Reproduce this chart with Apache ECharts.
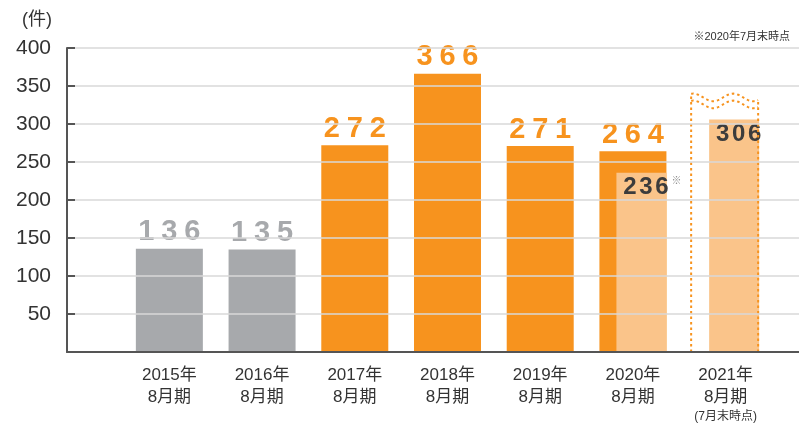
<!DOCTYPE html>
<html><head><meta charset="utf-8">
<script src="https://cdn.jsdelivr.net/npm/echarts@6/dist/echarts.min.js"></script>
<style>html,body{margin:0;padding:0;background:#fff}#c{width:799px;height:427px}</style>
</head><body><div id="c"></div>
<script>
const years = ['2015年','2016年','2017年','2018年','2019年','2020年','2021年'];
const periodLabel = '8月期';
const partialLabel = '(7月末時点)';
const counts = [136, 135, 272, 366, 271, 264, null];
const barKinds = ['gray','gray','orange','orange','orange','orange','none'];
const partialCounts = [null, null, null, null, null, 236, 306];
const partialMarks = ['', '', '', '', '', '※', ''];
const frameIndex = 6;
const frameTop = 340;
const yMin = 0, yMax = 400, yStep = 50;
const unitLabel = '(件)';
const noteLabel = '※2020年7月末時点';

const ORANGE = '#f7931e', LIGHT = '#fac48a', GRAY = '#a7a9ac', DARK = '#3c3c3c';
const FONT = "'Liberation Sans','Noto Sans CJK JP',sans-serif";

function spaced(v, key) { return String(v).split('').map(d => '{' + key + '|' + d + '}').join(''); }

const mainData = counts.map((v, i) => v == null ? '-' : {
  value: v,
  itemStyle: { color: barKinds[i] === 'gray' ? GRAY : ORANGE },
  label: { formatter: () => spaced(v, barKinds[i] === 'gray' ? 'g' : 'o') }
});
const partialData = partialCounts.map((v, i) => v == null ? null : [i, v, i]).filter(Boolean);

const chart = echarts.init(document.getElementById('c'));
chart.setOption({
  animation: false,
  textStyle: { fontFamily: FONT },
  title: [
    { text: unitLabel, left: 17, top: 6, textStyle: { fontSize: 18, fontWeight: 'normal', color: '#333', fontFamily: FONT } },
    { text: noteLabel, right: 4, top: 26, textStyle: { fontSize: 11, fontWeight: 'normal', color: '#333', fontFamily: FONT } }
  ],
  grid: [
    { left: 67, right: 0, top: 48, bottom: 75 },
    { left: 123, right: 27, top: 48, bottom: 75 }
  ],
  xAxis: [
    { gridIndex: 0, type: 'category', data: [''], z: 10,
      axisLine: { show: true, lineStyle: { color: '#555', width: 2 } },
      axisTick: { show: false }, axisLabel: { show: false } },
    { gridIndex: 1, type: 'category',
      data: years.map((y, i) => y + '\n' + periodLabel + (i === frameIndex ? '\n{s|' + partialLabel + '}' : '')),
      axisLine: { show: false }, axisTick: { show: false },
      axisLabel: { interval: 0, margin: 12, fontSize: 17, lineHeight: 22, color: '#333', fontFamily: FONT,
        rich: { s: { fontSize: 12, lineHeight: 18, color: '#333', fontFamily: FONT } } } }
  ],
  yAxis: [
    { gridIndex: 0, type: 'value', min: yMin, max: yMax, interval: yStep, z: 10,
      axisLine: { show: true, lineStyle: { color: '#555', width: 2 } },
      axisTick: { show: true, inside: true, length: 8, lineStyle: { color: '#555', width: 2 } },
      splitLine: { show: true, lineStyle: { color: '#d9d9d9', width: 1.5 } },
      axisLabel: { margin: 16, fontSize: 21, color: '#333', fontFamily: FONT,
        formatter: v => v === 0 ? '' : String(v) } },
    { gridIndex: 1, type: 'value', min: yMin, max: yMax, interval: yStep, show: false,
      splitLine: { show: false } }
  ],
  series: [
    { type: 'bar', xAxisIndex: 1, yAxisIndex: 1, barWidth: 67, data: mainData,
      label: { show: true, position: 'top', distance: 2,
        rich: {
          o: { fontSize: 29, fontWeight: 'bold', color: ORANGE, padding: [0, 3.4], fontFamily: FONT },
          g: { fontSize: 29, fontWeight: 'bold', color: GRAY, padding: [0, 3.4], fontFamily: FONT }
        } } },
    { type: 'custom', xAxisIndex: 1, yAxisIndex: 1, data: partialData, z: 3,
      renderItem: function (params, api) {
        const idx = api.value(0), val = api.value(1);
        const top = api.coord([idx, val]);
        const base = api.coord([idx, 0]);
        const right = top[0] + 33.5, w = 50, left = right - w;
        const children = [
          { type: 'rect', shape: { x: left, y: top[1], width: w, height: base[1] - top[1] }, style: { fill: LIGHT } },
          { type: 'text', style: { text: spaced(val, 'd'), x: left + w / 2 + 4.5, y: top[1] + 3, align: 'center', verticalAlign: 'top',
              rich: { d: { fontSize: 24, fontWeight: 'bold', fill: DARK, padding: [0, 1.3], fontFamily: FONT } } } }
        ];
        const mark = partialMarks[idx];
        if (mark) children.push({ type: 'text', style: { text: mark, x: right + 5, y: top[1] + 4, align: 'left', verticalAlign: 'top', fontSize: 10, fill: '#888', fontFamily: FONT } });
        return { type: 'group', children: children };
      } },
    { type: 'custom', xAxisIndex: 1, yAxisIndex: 1, data: [[frameIndex, frameTop]], z: 4,
      renderItem: function (params, api) {
        const c = api.coord([api.value(0), api.value(1)]);
        const base = api.coord([api.value(0), 0]);
        const x0 = c[0] - 34.5, x1 = c[0] + 32.5;
        const wave = (dx, off) => c[1] + off + 3.8 * (1 - Math.cos(2 * Math.PI * (dx - 2) / 40));
        const up = [], lo = [];
        for (let x = x0; x <= x1 + 0.01; x += 1) { up.push([x, wave(x - x0, 0)]); lo.push([x, wave(x - x0, 7)]); }
        const st = { stroke: ORANGE, lineWidth: 2, lineDash: [2.5, 3], fill: null };
        return { type: 'group', children: [
          { type: 'polyline', shape: { points: [[x0, base[1]], [x0, up[0][1]]] }, style: st },
          { type: 'polyline', shape: { points: [[x1, base[1]], [x1, up[up.length - 1][1]]] }, style: st },
          { type: 'polyline', shape: { points: up }, style: st },
          { type: 'polyline', shape: { points: lo }, style: st }
        ] };
      } }
  ]
});
</script></body></html>
